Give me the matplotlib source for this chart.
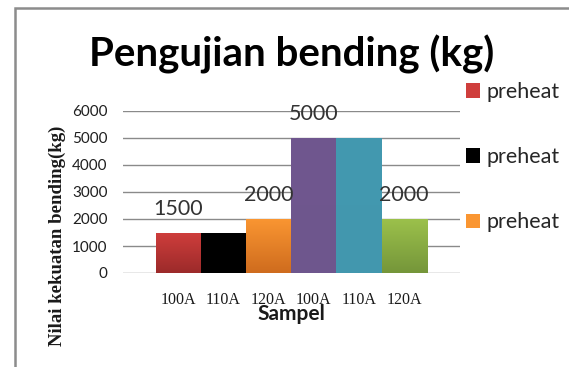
import numpy as np
import matplotlib
matplotlib.use("Agg")
import matplotlib.pyplot as plt
from matplotlib.colors import LinearSegmentedColormap
from matplotlib.patches import Rectangle, Patch
from matplotlib.transforms import ScaledTranslation

# Data
samples = ["100A", "110A", "120A", "100A", "110A", "120A"]
values = [1500, 1500, 2000, 5000, 5000, 2000]
labeled = [True, False, True, True, False, True]
legend_labels = ["preheat", "preheat", "preheat"]
yticks = [0, 1000, 2000, 3000, 4000, 5000, 6000]

# (top colour, bottom colour) for each bar
bar_colors = [
    ("#CF3E3C", "#9C2A2A"),
    ("#000000", "#000000"),
    ("#FA9632", "#CF6C1E"),
    ("#70578F", "#6E568D"),
    ("#4399B0", "#4297AE"),
    ("#9CC14B", "#75963A"),
]

W, H = 569, 367
fig = plt.figure(figsize=(W / 100, H / 100), dpi=100)
fig.patch.set_facecolor("white")

# outer chart frame (only top and left edges visible)
fig.add_artist(Rectangle((15 / W, -0.1), 1.2, (H - 8) / H + 0.1,
                         transform=fig.transFigure, fill=False,
                         edgecolor="#8C8C8C", linewidth=1.8))

ax = fig.add_axes([123 / W, (H - 273) / H, (460 - 123) / W, (273 - 111) / H])
x = np.arange(len(values))
bars = ax.bar(x, values, width=1.0, color=[c[0] for c in bar_colors],
              linewidth=0, zorder=2)

# vertical gradient fill inside each bar
for b, (top, bottom) in zip(bars, bar_colors):
    cmap = LinearSegmentedColormap.from_list("g", [bottom, top])
    grad = np.linspace(0, 1, 64).reshape(-1, 1)
    x0, y0 = b.get_x(), b.get_y()
    im = ax.imshow(grad, cmap=cmap, aspect="auto", origin="lower",
                   extent=(x0, x0 + b.get_width(), y0, y0 + b.get_height()),
                   zorder=2.5, interpolation="bilinear")
    im.set_clip_path(b)

for xi, v, show in zip(x, values, labeled):
    if show:
        ax.annotate(f"{v}", (xi, v), xytext=(0, 10), textcoords="offset points",
                    ha="center", va="bottom", fontsize=15.5, family="Lato",
                    color="#333333", zorder=4)

ax.set_xlim(-1.224, 6.237)
ax.set_ylim(0, 6000)
ax.set_yticks(yticks)
ax.set_yticklabels([str(t) for t in yticks], family="Lato", fontsize=11,
                   color="#1f1f1f")
ax.set_xticks(x)
ax.set_xticklabels(samples, family="Liberation Serif", fontsize=11.5,
                   color="#1a1a1a")
shift = ScaledTranslation(-11 / 100, 0, fig.dpi_scale_trans)
for lab in ax.get_xticklabels():
    lab.set_transform(lab.get_transform() + shift)
ax.tick_params(axis="y", length=0, pad=11)
ax.tick_params(axis="x", length=0, pad=14)
for s in ax.spines.values():
    s.set_visible(False)
ax.yaxis.grid(True, color="#8A8A8A", linewidth=1.0, zorder=0)
ax.set_axisbelow(True)

ax.set_xlabel("Sampel", family="Lato", fontweight="bold", fontsize=15,
              color="#1a1a1a")
ax.xaxis.set_label_coords(0.5, -(314 - 273) / 162)
ax.xaxis.label.set_va("center")

fig.text(57 / W, 1 - 236 / H, "Nilai kekuatan bending(kg)", rotation=90,
         ha="center", va="center", family="Liberation Serif",
         fontweight="bold", fontsize=13.5, color="#1a1a1a")

fig.text(292 / W, 1 - 67 / H, "Pengujian bending (kg)", ha="center",
         va="baseline", family="Lato", fontweight="bold", fontsize=29,
         color="#000000")

handles = [Patch(facecolor=bar_colors[i][0], edgecolor="none") for i in range(3)]
fig.legend(handles, legend_labels, loc="upper left",
           bbox_to_anchor=(466 / W, 1 - 82 / H), frameon=False,
           prop={"family": "Lato", "size": 15.5}, handlelength=0.65,
           handleheight=0.65, handletextpad=0.3, labelspacing=2.1,
           labelcolor="#262626", borderaxespad=0, borderpad=0)

fig.savefig("out.png", dpi=100)
